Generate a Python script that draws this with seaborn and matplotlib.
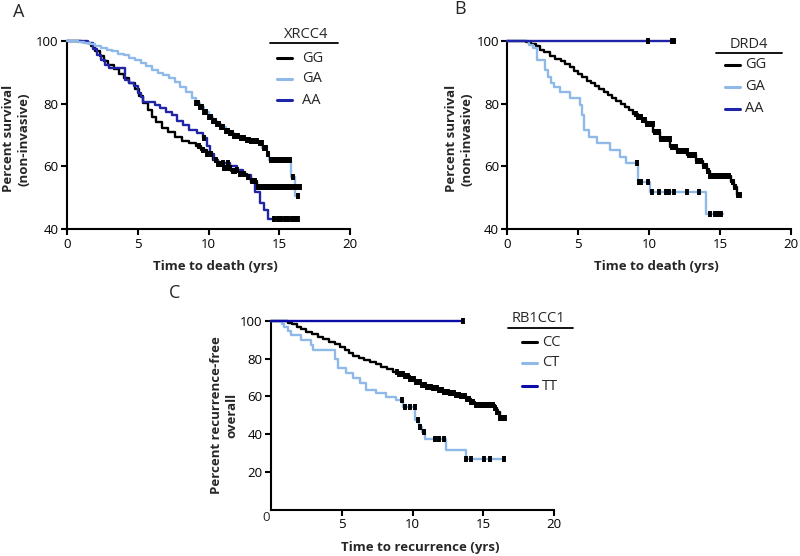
"""
Kaplan-Meier style survival curves for three SNPs (XRCC4, DRD4, RB1CC1).
Step curves are typed in from the published figure; black ticks mark censoring.
"""

import numpy as np
import pandas as pd
import matplotlib
matplotlib.use("Agg")
import matplotlib.pyplot as plt
import seaborn as sns
from matplotlib.lines import Line2D

BLACK = "#000000"
LIGHT = "#8fb9e8"
NAVY  = "#1f25a6"
DEEP  = "#0c0ca8"

# ── Panel A: XRCC4, time to death ─────────────────────────────────────────────
A_GG_T = [0, 1.0, 1.4, 1.7, 2.0, 2.3, 2.6, 2.9, 3.3, 3.7, 4.0, 4.4, 4.8, 5.1, 5.4,
          5.7, 6.0, 6.3, 6.7, 7.1, 7.6, 8.1, 8.6, 9.1, 9.5, 9.9, 10.3, 10.7, 11.1,
          11.6, 12.2, 12.7, 13.0, 13.4]
A_GG_S = [100, 99.7, 99.2, 98.2, 96.8, 95.2, 93.5, 92.4, 91.0, 89.3, 88.0, 86.4, 84.6,
          82.5, 80.2, 77.8, 75.8, 74.0, 72.2, 70.8, 69.3, 68.2, 67.6, 66.6, 65.2, 63.8,
          62.2, 60.8, 59.6, 58.6, 57.6, 56.6, 55.3, 53.3]
A_GG_END = 16.45
A_GG_CENSOR = [9.3, 9.6, 9.9, 10.2, 10.5, 10.7, 10.9, 11.1, 11.3, 11.5, 11.7, 11.9,
               12.2, 12.5, 12.8, 13.1, 13.3, 13.5, 13.7, 13.9, 14.1, 14.3, 14.5, 14.7,
               14.9, 15.1, 15.3, 15.5, 15.7, 15.9, 16.1, 16.3, 16.45]

A_GA_T = [0, 0.8, 1.2, 1.6, 2.0, 2.4, 2.8, 3.2, 3.6, 4.0, 4.4, 4.8, 5.2, 5.6, 6.0, 6.4,
          6.8, 7.2, 7.6, 8.0, 8.4, 8.8, 9.1, 9.4, 9.7, 10.0, 10.3, 10.6, 10.9, 11.2,
          11.5, 11.8, 12.2, 12.6, 13.0, 13.5, 13.8, 14.1, 14.3, 15.8, 16.1]
A_GA_S = [100, 99.6, 99.2, 98.8, 98.3, 97.8, 97.2, 96.6, 95.9, 95.3, 94.5, 93.8, 92.9,
          91.8, 90.8, 89.8, 89.0, 88.0, 86.8, 85.4, 83.8, 81.9, 80.2, 78.8, 77.2, 75.8,
          74.6, 73.4, 72.4, 71.4, 70.6, 69.8, 69.0, 68.4, 68.1, 67.6, 65.8, 63.8, 62.0,
          56.7, 50.5]
A_GA_END = 16.35
A_GA_CENSOR = [9.1, 9.25, 9.4, 9.55, 9.7, 9.85, 10.0, 10.15, 10.3, 10.45, 10.6, 10.75,
               10.9, 11.05, 11.2, 11.35, 11.5, 11.65, 11.8, 11.95, 12.1, 12.3, 12.5,
               12.7, 12.85, 13.0, 13.15, 13.3, 13.45, 13.6, 13.75, 13.9, 14.05, 14.2,
               14.4, 14.55, 14.7, 14.85, 15.0, 15.15, 15.3, 15.45, 15.6, 15.75, 15.95,
               16.35]

A_AA_T = [0, 1.5, 1.8, 2.1, 2.4, 2.7, 3.0, 4.1, 4.4, 4.7, 5.0, 5.2, 5.4, 6.2, 6.6, 7.0,
          7.4, 7.8, 8.2, 8.6, 9.2, 9.6, 9.9, 10.1, 10.4, 10.7, 11.5, 12.0, 12.4, 13.0,
          13.3, 13.6, 13.9, 14.2]
A_AA_S = [100, 99.3, 97.5, 95.5, 94.0, 92.2, 91.2, 87.5, 86.5, 85.5, 83.5, 82.0, 80.6,
          79.6, 78.5, 77.4, 76.3, 74.5, 73.2, 71.5, 70.5, 69.0, 66.5, 64.0, 62.0, 61.0,
          60.0, 59.0, 57.3, 55.0, 52.0, 48.5, 46.0, 43.2]
A_AA_END = 16.3
A_AA_CENSOR = [9.7, 11.0, 11.4, 12.0, 14.6, 14.9, 15.1, 15.4, 15.6, 15.9, 16.1, 16.3]

# ── Panel B: DRD4, time to death ──────────────────────────────────────────────
B_GG_T = [0, 0.8, 1.3, 1.7, 2.0, 2.3, 2.6, 3.0, 3.4, 3.8, 4.1, 4.4, 4.7, 5.0, 5.3, 5.6,
          5.9, 6.2, 6.5, 6.8, 7.1, 7.4, 7.7, 8.0, 8.3, 8.6, 8.9, 9.2, 9.5, 9.8, 10.3,
          10.8, 11.5, 12.0, 12.7, 13.3, 13.8, 14.1, 14.3, 15.8, 16.0, 16.2]
B_GG_S = [100, 99.8, 99.5, 99.0, 98.2, 97.2, 96.5, 95.2, 94.2, 93.5, 92.6, 91.6, 90.5,
          89.5, 88.4, 87.3, 86.4, 85.6, 84.6, 83.6, 82.6, 81.8, 80.9, 79.9, 78.8, 77.8,
          76.8, 75.8, 74.7, 73.5, 70.8, 68.8, 66.3, 65.0, 63.5, 61.8, 60.0, 58.5, 56.8,
          55.2, 53.6, 51.0]
B_GG_END = 16.5
B_GG_CENSOR = [9.1, 9.2, 9.3, 9.45, 9.6, 9.7, 9.85, 10.0, 10.1, 10.25, 10.4, 10.55, 10.7,
               10.85, 11.0, 11.15, 11.3, 11.45, 11.6, 11.75, 11.9, 12.05, 12.2, 12.35,
               12.5, 12.65, 12.8, 12.95, 13.1, 13.25, 13.4, 13.55, 13.7, 13.85, 14.0,
               14.15, 14.3, 14.45, 14.6, 14.75, 14.9, 15.05, 15.2, 15.35, 15.5, 15.65,
               15.9, 16.1, 16.3, 16.45]

B_GA_T = [0, 1.5, 1.85, 2.1, 2.65, 2.85, 3.05, 3.3, 3.7, 4.4, 5.1, 5.25, 5.4, 5.75, 6.3,
          7.25, 7.95, 8.4, 9.2, 10.1, 14.05]
B_GA_S = [100, 98.6, 97.6, 93.9, 90.8, 88.5, 86.4, 85.2, 83.6, 81.7, 79.5, 76.5, 71.6,
          69.5, 67.4, 65.2, 63.1, 61.0, 55.2, 52.0, 44.8]
B_GA_END = 15.25
B_GA_CENSOR = [9.13, 9.3, 9.45, 9.9, 10.2, 10.7, 11.2, 11.4, 11.75, 12.7, 13.5, 14.3,
               14.65, 14.85, 15.05]

B_AA_T = [0]
B_AA_S = [100]
B_AA_END = 11.8
B_AA_CENSOR = [9.9, 11.6, 11.75]

# ── Panel C: RB1CC1, time to recurrence ───────────────────────────────────────
C_CC_T = [0, 0.8, 1.2, 1.5, 1.8, 2.1, 2.5, 2.9, 3.3, 3.7, 4.1, 4.5, 4.9, 5.2, 5.5, 5.8,
          6.2, 6.6, 7.0, 7.4, 7.8, 8.2, 8.6, 9.0, 9.4, 9.8, 10.2, 10.6, 11.0, 11.4,
          11.8, 12.2, 12.6, 13.0, 13.4, 13.8, 14.1, 14.4, 15.8, 16.0, 16.2]
C_CC_S = [100, 99.8, 99.0, 98.0, 96.8, 95.5, 94.0, 92.8, 91.4, 90.2, 88.8, 87.6, 86.0,
          84.6, 83.0, 81.6, 80.4, 79.2, 78.2, 77.0, 75.6, 74.3, 73.0, 71.8, 70.6, 69.0,
          67.6, 66.3, 65.2, 64.2, 63.4, 62.6, 61.8, 61.0, 60.0, 58.6, 57.0, 55.5, 54.0,
          51.8, 48.5]
C_CC_END = 16.55
C_CC_CENSOR = [8.9, 9.05, 9.2, 9.35, 9.5, 9.65, 9.8, 9.95, 10.1, 10.25, 10.4, 10.55,
               10.7, 10.85, 11.0, 11.15, 11.3, 11.45, 11.6, 11.75, 11.9, 12.05, 12.2,
               12.35, 12.5, 12.65, 12.8, 12.95, 13.1, 13.25, 13.4, 13.55, 13.7, 13.85,
               14.0, 14.15, 14.3, 14.45, 14.6, 14.75, 14.9, 15.05, 15.2, 15.35, 15.5,
               15.65, 15.8, 16.0, 16.2, 16.35, 16.5]

C_CT_T = [0, 0.8, 0.95, 1.2, 1.4, 2.1, 2.8, 3.0, 4.5, 4.75, 5.3, 5.8, 6.3, 6.7, 7.4,
          8.1, 8.8, 9.35, 10.2, 10.45, 10.7, 10.9, 12.35, 13.75]
C_CT_S = [100, 98.5, 96.8, 94.5, 92.4, 89.8, 87.1, 84.5, 80.0, 74.8, 72.2, 69.5, 66.9,
          63.4, 61.6, 59.9, 58.1, 54.6, 47.5, 44.0, 41.0, 37.3, 31.7, 26.9]
C_CT_END = 16.45
C_CT_CENSOR = [9.24, 9.5, 9.8, 10.15, 10.35, 10.55, 10.8, 11.6, 11.85, 12.25, 13.8, 14.1,
               15.05, 15.5, 16.45]

C_TT_T = [0]
C_TT_S = [100]
C_TT_END = 13.55
C_TT_CENSOR = [13.55]


# ── Drawing helpers ───────────────────────────────────────────────────────────

def draw_curve(ax, times, surv, end, color, censor):
    df = pd.DataFrame({"t": list(times) + [end], "s": list(surv) + [surv[-1]]})
    sns.lineplot(data=df, x="t", y="s", drawstyle="steps-post", color=color,
                 lw=1.7, estimator=None, sort=False, ax=ax, clip_on=False, zorder=3)
    # censor ticks sit on the step value at each censor time
    idx = np.searchsorted(np.asarray(times), np.asarray(censor), side="right") - 1
    cs = np.asarray(surv)[idx]
    sns.scatterplot(x=censor, y=cs, marker="|", s=24, linewidth=2.8, color=BLACK,
                    ax=ax, clip_on=False, zorder=4)


def style_axes(ax, ylim, yticks, xticks):
    ax.set_xlim(0, 20)
    ax.set_ylim(*ylim)
    ax.set_xticks(xticks)
    ax.set_yticks(yticks)
    sns.despine(ax=ax)
    for side in ("left", "bottom"):
        ax.spines[side].set_linewidth(1.5)
    ax.tick_params(direction="out", length=4, width=1.5, labelsize=9.5, pad=2)


def draw_legend(fig, title, labels, colors, title_xy, line_x, text_x, rows_y, rule_x):
    W, H = 800.0, 556.0
    fig.text(title_xy[0] / W, 1 - title_xy[1] / H, title, ha="center", va="center",
             fontsize=10.5)
    rule_y = 1 - (title_xy[1] + 9) / H
    fig.add_artist(Line2D([rule_x[0] / W, rule_x[1] / W], [rule_y, rule_y],
                          color=BLACK, lw=1.3, transform=fig.transFigure))
    for lab, col, y in zip(labels, colors, rows_y):
        fy = 1 - y / H
        fig.add_artist(Line2D([line_x[0] / W, line_x[1] / W], [fy, fy], color=col,
                              lw=2.2, transform=fig.transFigure))
        fig.text(text_x / W, fy, lab, ha="left", va="center", fontsize=10.5)


# ── Main ──────────────────────────────────────────────────────────────────────

def main() -> None:
    sns.set_theme(style="ticks")
    plt.rcParams["font.family"] = ["Open Sans", "DejaVu Sans"]
    plt.rcParams["axes.edgecolor"] = BLACK
    plt.rcParams["xtick.color"] = BLACK
    plt.rcParams["ytick.color"] = BLACK

    fig = plt.figure(figsize=(8, 5.56), dpi=100)
    ax_a = fig.add_axes([0.0838, 0.5876, 0.3538, 0.3392])
    ax_b = fig.add_axes([0.6341, 0.5876, 0.3543, 0.3392])
    ax_c = fig.add_axes([0.3388, 0.0827, 0.3538, 0.3405])

    # A
    draw_curve(ax_a, A_GG_T, A_GG_S, A_GG_END, BLACK, A_GG_CENSOR)
    draw_curve(ax_a, A_AA_T, A_AA_S, A_AA_END, NAVY, A_AA_CENSOR)
    draw_curve(ax_a, A_GA_T, A_GA_S, A_GA_END, LIGHT, A_GA_CENSOR)
    style_axes(ax_a, (40, 100), [40, 60, 80, 100], [0, 5, 10, 15, 20])

    # B
    draw_curve(ax_b, B_GG_T, B_GG_S, B_GG_END, BLACK, B_GG_CENSOR)
    draw_curve(ax_b, B_GA_T, B_GA_S, B_GA_END, LIGHT, B_GA_CENSOR)
    draw_curve(ax_b, B_AA_T, B_AA_S, B_AA_END, NAVY, B_AA_CENSOR)
    style_axes(ax_b, (40, 100), [40, 60, 80, 100], [0, 5, 10, 15, 20])

    # C
    draw_curve(ax_c, C_CC_T, C_CC_S, C_CC_END, BLACK, C_CC_CENSOR)
    draw_curve(ax_c, C_CT_T, C_CT_S, C_CT_END, LIGHT, C_CT_CENSOR)
    draw_curve(ax_c, C_TT_T, C_TT_S, C_TT_END, DEEP, C_TT_CENSOR)
    style_axes(ax_c, (0, 100), [20, 40, 60, 80, 100], [5, 10, 15, 20])
    ax_c.annotate("0", xy=(0, 0), xytext=(-3.5, -5.5), textcoords="offset points",
                  ha="center", va="center", fontsize=9.5)

    # y labels: anchor is the right-hand edge of the rotated two-line block
    lab_kw = dict(fontsize=9.5, fontweight="bold", linespacing=1.25)
    ax_a.set_ylabel("Percent survival\n(non-invasive)", **lab_kw)
    ax_a.yaxis.set_label_coords(-0.128, 0.48)
    ax_b.set_ylabel("Percent survival\n(non-invasive)", **lab_kw)
    ax_b.yaxis.set_label_coords(-0.12, 0.48)
    ax_c.set_ylabel("Percent recurrence-free\noverall", **lab_kw)
    ax_c.yaxis.set_label_coords(-0.115, 0.5)

    ax_a.set_xlabel("Time to death (yrs)", **lab_kw)
    ax_a.xaxis.set_label_coords(0.525, -0.165)
    ax_b.set_xlabel("Time to death (yrs)", **lab_kw)
    ax_b.xaxis.set_label_coords(0.525, -0.165)
    ax_c.set_xlabel("Time to recurrence (yrs)", **lab_kw)
    ax_c.xaxis.set_label_coords(0.527, -0.165)

    draw_legend(fig, "XRCC4", ["GG", "GA", "AA"], [BLACK, LIGHT, NAVY],
                (306, 34), (277, 292), 302, [58, 79, 100], (270, 338))
    draw_legend(fig, "DRD4", ["GG", "GA", "AA"], [BLACK, LIGHT, NAVY],
                (749, 44), (725, 740), 745, [65, 87, 109], (716, 782))
    draw_legend(fig, "RB1CC1", ["CC", "CT", "TT"], [BLACK, LIGHT, DEEP],
                (538, 319), (522, 537), 542, [342, 363, 386], (508, 573))

    fig.text(19 / 800, 1 - 12 / 556, "A", ha="center", va="center", fontsize=13)
    fig.text(460 / 800, 1 - 9 / 556, "B", ha="center", va="center", fontsize=13)
    fig.text(175 / 800, 1 - 293 / 556, "C", ha="center", va="center", fontsize=13)

    fig.savefig("out.png", dpi=100)
    plt.close(fig)


if __name__ == "__main__":
    main()
